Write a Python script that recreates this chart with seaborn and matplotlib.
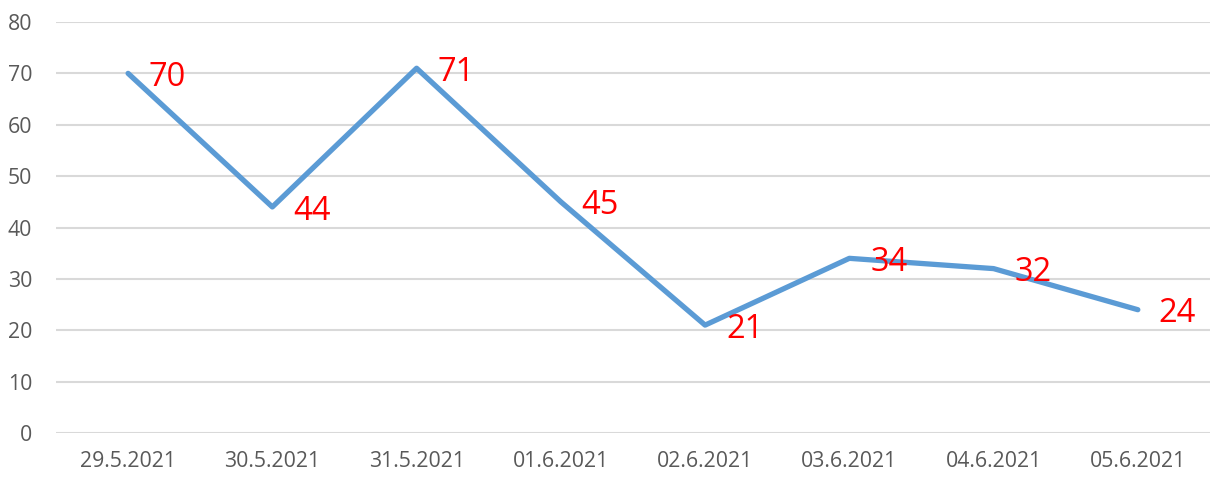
import pandas as pd
import matplotlib
matplotlib.use("Agg")
import matplotlib.pyplot as plt
import seaborn as sns

dates = ["29.5.2021", "30.5.2021", "31.5.2021", "01.6.2021",
         "02.6.2021", "03.6.2021", "04.6.2021", "05.6.2021"]
values = [70, 44, 71, 45, 21, 34, 32, 24]

df = pd.DataFrame({"date": dates, "value": values})

sns.set_style("white")
plt.rcParams["font.family"] = ["Open Sans", "DejaVu Sans"]

fig = plt.figure(figsize=(12.3, 4.91), dpi=100)
ax = fig.add_axes([0.0455, 0.1181, 0.9382, 0.8371])

sns.lineplot(data=df, x="date", y="value", sort=False, color="#5B9BD5",
             linewidth=3.8, ax=ax, zorder=3)

# labels right of each point
for i, v in enumerate(values):
    ax.annotate(str(v), (i, v), xytext=(15, -3), textcoords="offset points",
                ha="left", va="center", color="#FF0000", fontsize=23.5, zorder=4)

ax.set_xlim(-0.5, len(dates) - 0.5)
ax.set_ylim(0, 80)
ax.set_yticks(range(0, 81, 10))
ax.yaxis.grid(True, color="#D9D9D9", linewidth=1.5)
ax.set_axisbelow(True)
for s in ax.spines.values():
    s.set_visible(False)
ax.tick_params(axis="both", length=0, labelsize=15.3, labelcolor="#595959")
ax.tick_params(axis="x", pad=13)
ax.tick_params(axis="y", pad=17)
ax.set_xlabel("")
ax.set_ylabel("")

plt.savefig("out.png", dpi=100)
